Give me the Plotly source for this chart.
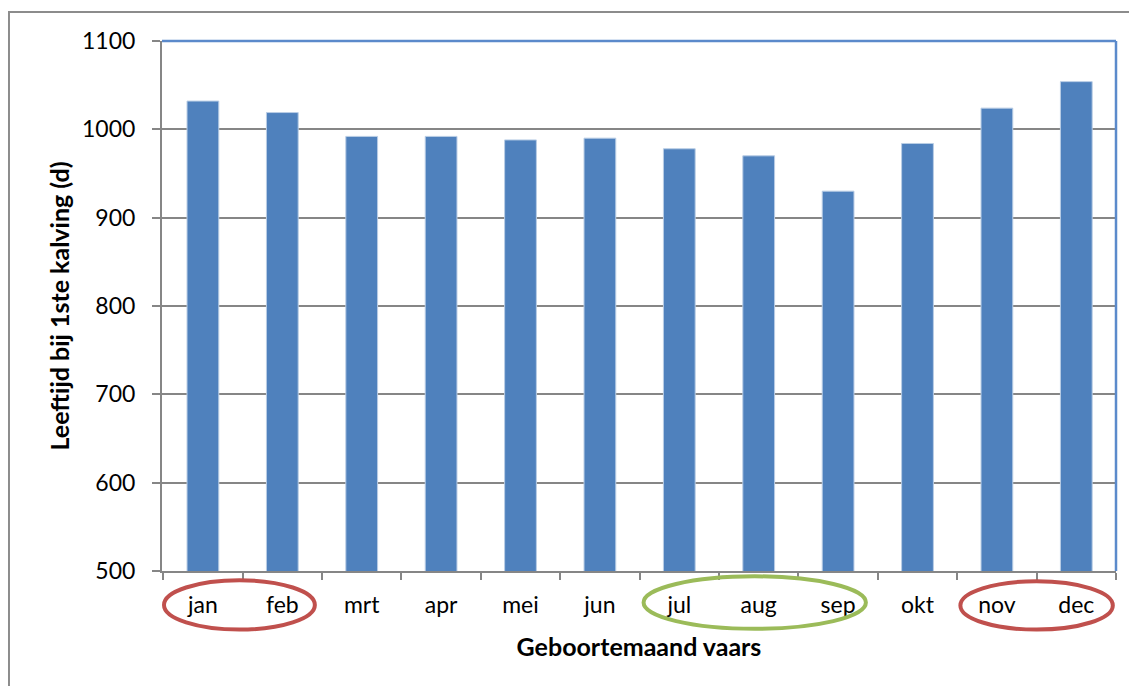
import plotly.graph_objects as go

months = ["jan", "feb", "mrt", "apr", "mei", "jun", "jul", "aug", "sep", "okt", "nov", "dec"]
leeftijd = [1032, 1019, 992, 992, 988, 990, 978, 970, 930, 984, 1024, 1054]
y_ticks = [500, 600, 700, 800, 900, 1000, 1100]

x_title = "Geboortemaand vaars"
y_title = "Leeftijd bij 1ste kalving (d)"

FONT = "Lato, Carlito, Calibri, sans-serif"
GRAY = "#868686"

fig = go.Figure(
    go.Bar(
        x=months,
        y=leeftijd,
        width=0.4,
        marker=dict(color="#4F81BD", line=dict(color="#B9CDE5", width=1)),
        hoverinfo="x+y",
    )
)

# the page body adds an 8px offset; margins compensate for it
fig.update_layout(
    width=1137,
    height=686,
    margin=dict(l=154, r=29, t=33, b=123),
    plot_bgcolor="white",
    paper_bgcolor="white",
    showlegend=False,
    font=dict(family=FONT, color="black", size=23),
    xaxis=dict(
        type="category",
        showline=True,
        linecolor=GRAY,
        linewidth=2,
        ticks="outside",
        tickson="boundaries",
        ticklen=7,
        tickcolor=GRAY,
        tickwidth=2,
        showgrid=False,
        tickfont=dict(family=FONT, size=23, color="black"),
        ticklabelstandoff=12,
        title=dict(text="<b>" + x_title + "</b>", font=dict(family=FONT, size=25), standoff=22),
    ),
    yaxis=dict(
        range=[500, 1100],
        tickvals=y_ticks,
        showline=True,
        linecolor=GRAY,
        linewidth=2,
        ticks="outside",
        ticklen=8,
        tickcolor=GRAY,
        tickwidth=2,
        showgrid=True,
        gridcolor=GRAY,
        gridwidth=1.5,
        zeroline=False,
        tickfont=dict(family=FONT, size=23, color="black"),
        ticklabelstandoff=12,
        title=dict(text="<b>" + y_title + "</b>", font=dict(family=FONT, size=25), standoff=5),
    ),
    shapes=[
        # outer chart frame
        dict(type="rect", xref="paper", yref="paper", x0=-0.1604, x1=1.2, y0=-0.4, y1=1.0547,
             line=dict(color="#8C8C8C", width=2), layer="below"),
        # plot-area border (top and right, blue)
        dict(type="line", xref="paper", yref="paper", x0=0, x1=1, y0=1, y1=1,
             line=dict(color="#5B8ACB", width=2.5)),
        dict(type="line", xref="paper", yref="paper", x0=1, x1=1, y0=0, y1=1,
             line=dict(color="#5B8ACB", width=2.5)),
        # ellipses around month labels
        dict(type="circle", xref="x", yref="paper", x0=-0.49, x1=1.41, y0=-0.1105, y1=-0.0175,
             line=dict(color="#C0504D", width=4)),
        dict(type="circle", xref="x", yref="paper", x0=5.55, x1=8.35, y0=-0.109, y1=-0.010,
             line=dict(color="#9BBB59", width=4)),
        dict(type="circle", xref="x", yref="paper", x0=9.54, x1=11.46, y0=-0.1105, y1=-0.0194,
             line=dict(color="#C0504D", width=4)),
    ],
)

fig.write_html("out.html")
